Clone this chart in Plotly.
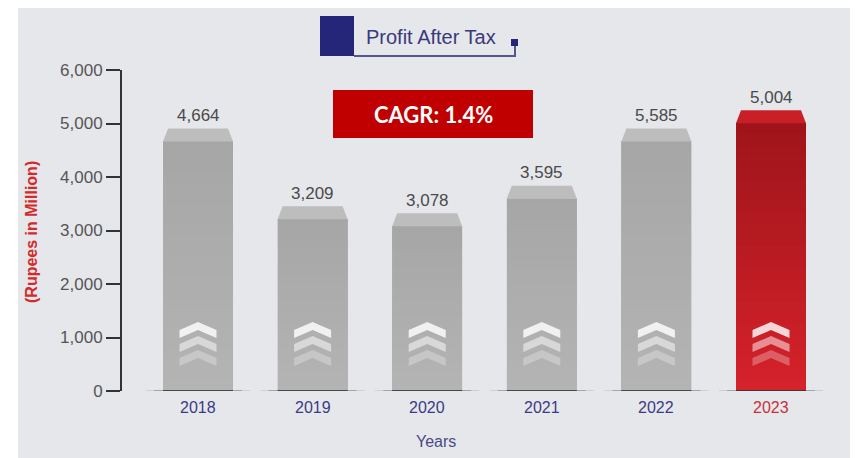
import plotly.graph_objects as go

# ---- data ----
years = ["2018", "2019", "2020", "2021", "2022", "2023"]
value_labels = ["4,664", "3,209", "3,078", "3,595", "5,585", "5,004"]
bar_heights = [4664, 3209, 3078, 3595, 4664, 5004]   # heights as drawn in the picture
y_ticks = [0, 1000, 2000, 3000, 4000, 5000, 6000]
y_ticktext = ["0", "1,000", "2,000", "3,000", "4,000", "5,000", "6,000"]
series_name = "Profit After Tax"
cagr_text = "CAGR: 1.4%"
x_title = "Years"
y_title = "(Rupees in Million)"

OFF = 8                      # page body margin
WIN_W, WIN_H = 858, 458
W, H = WIN_W - OFF, WIN_H - OFF
L, R, T, B = 122, 828, 70, 391  # plot area in window pixels


def fx(x):
    return (x - L) / (R - L)


def fy(y):
    return (B - y) / (B - T)


xs = list(range(len(years)))
highlight = len(years) - 1
grey_bot, grey_top = (180, 180, 180), (166, 166, 166)
red_bot, red_top = (214, 34, 43), (158, 20, 26)
bevel_grey, bevel_red = "#bdbdbd", "#c91f27"

fig = go.Figure()
fig.add_trace(go.Bar(x=xs, y=bar_heights, width=0.61,
                     marker=dict(color=["rgb(%d,%d,%d)" % (red_bot if i == highlight else grey_bot) for i in xs],
                                 line=dict(width=0)),
                     hoverinfo="skip", showlegend=False))

shapes = []
# white strip at left edge
shapes.append(dict(type="rect", xref="paper", yref="paper", x0=fx(0), x1=fx(18), y0=fy(WIN_H), y1=fy(0),
                   fillcolor="#ffffff", line_width=0, layer="below"))

N = 24
for i, h in zip(xs, bar_heights):
    cb, ct = (red_bot, red_top) if i == highlight else (grey_bot, grey_top)
    # vertical gradient of the front face
    for k in range(N):
        t = (k + 0.5) / N
        c = tuple(round(cb[j] + (ct[j] - cb[j]) * t) for j in range(3))
        shapes.append(dict(type="rect", xref="x", yref="y", x0=i - 0.305, x1=i + 0.305,
                           y0=h * k / N, y1=h * (k + 1) / N + h * 0.002,
                           fillcolor="rgb(%d,%d,%d)" % c, line_width=0))
    # bevelled top
    shapes.append(dict(type="path", xref="x", yref="y", xsizemode="pixel", ysizemode="pixel",
                       xanchor=i, yanchor=h, path="M -35,0 L 35,0 L 30,13 L -30,13 Z",
                       fillcolor=bevel_red if i == highlight else bevel_grey, line_width=0))
    # chevrons
    for k, op in enumerate([0.82, 0.5, 0.28]):
        d = 14 * k
        p = (f"M 0,{69-d} L 18.5,{61-d} L 18.5,{53-d} L 0,{61-d} L -18.5,{53-d} L -18.5,{61-d} Z")
        shapes.append(dict(type="path", xref="x", yref="y", xsizemode="pixel", ysizemode="pixel",
                           xanchor=i, yanchor=0, path=p, fillcolor=f"rgba(255,255,255,{op})",
                           line_width=0))
    # base shadow (fading at the ends)
    for half, col in [(52, "rgba(80,80,80,0.15)"), (44, "rgba(70,70,70,0.3)"), (35, "rgba(50,50,50,0.75)")]:
        shapes.append(dict(type="line", xref="x", yref="y", xsizemode="pixel", ysizemode="pixel",
                           xanchor=i, yanchor=0, x0=-half, x1=half, y0=0, y1=0,
                           line=dict(color=col, width=2)))
    # reflection
    shapes.append(dict(type="rect", xref="x", yref="y", xsizemode="pixel", ysizemode="pixel",
                       xanchor=i, yanchor=0, x0=-35, x1=35, y0=-2, y1=-32,
                       fillcolor="rgba(255,255,255,0.22)", line_width=0))

# legend box
navy = "#25257a"
shapes.append(dict(type="rect", xref="paper", yref="paper", x0=fx(320), x1=fx(354), y0=fy(56), y1=fy(16),
                   fillcolor=navy, line_width=0))
shapes.append(dict(type="path", xref="paper", yref="paper",
                   path=f"M {fx(354)},{fy(56)} L {fx(515)},{fy(56)} L {fx(515)},{fy(45)}",
                   line=dict(color="#55558f", width=2)))
shapes.append(dict(type="rect", xref="paper", yref="paper", x0=fx(511), x1=fx(518), y0=fy(46), y1=fy(39),
                   fillcolor=navy, line_width=0))
# CAGR box
shapes.append(dict(type="rect", xref="paper", yref="paper", x0=fx(333), x1=fx(533), y0=fy(138), y1=fy(90),
                   fillcolor="#c00000", line_width=0))

annotations = []
for i, lab in zip(xs, value_labels):
    annotations.append(dict(x=i, y=bar_heights[i], xref="x", yref="y", text=lab, showarrow=False,
                            yshift=26, font=dict(family="Liberation Sans", size=17, color="#4a4a4a")))
    annotations.append(dict(x=i, y=0, xref="x", yref="y", text=years[i], showarrow=False,
                            yshift=-16, font=dict(family="Liberation Sans", size=16,
                                                  color="#c8303a" if i == highlight else "#3b3b85")))


def pann(x, y, text, font, **kw):
    d = dict(x=fx(x), y=fy(y), xref="paper", yref="paper", text=text, showarrow=False,
             xanchor="center", yanchor="middle", font=font)
    d.update(kw)
    annotations.append(d)


pann(436, 442, x_title, dict(family="Liberation Sans", size=16, color="#4a4a88"))
pann(31, 232, f"<b>{y_title}</b>", dict(family="Liberation Sans", size=16, color="#d42a2a"), textangle=-90)
pann(364, 37, series_name, dict(family="Liberation Sans", size=20, color="#3a3a7a"), xanchor="left")
pann(433, 114, f"<b>{cagr_text}</b>", dict(family="Lato", size=22, color="#ffffff"))

fig.update_layout(
    width=W, height=H,
    margin=dict(l=L - OFF, r=WIN_W - R, t=T - OFF, b=WIN_H - B, pad=0, autoexpand=False),
    paper_bgcolor="#e6e7eb", plot_bgcolor="rgba(0,0,0,0)",
    shapes=shapes, annotations=annotations,
    xaxis=dict(range=[(L - 198) / 114.6, (R - 198) / 114.6], showgrid=False, zeroline=False,
               showline=False, showticklabels=False, fixedrange=True),
    yaxis=dict(range=[0, 6000], tickvals=y_ticks, ticktext=y_ticktext, showgrid=False, zeroline=False,
               showline=True, linecolor="#333333", linewidth=2, ticks="outside", ticklen=14,
               tickwidth=2, tickcolor="#333333",
               tickfont=dict(family="Liberation Sans", size=17, color="#555555")),
    bargap=0,
)
fig.write_html("out.html")
